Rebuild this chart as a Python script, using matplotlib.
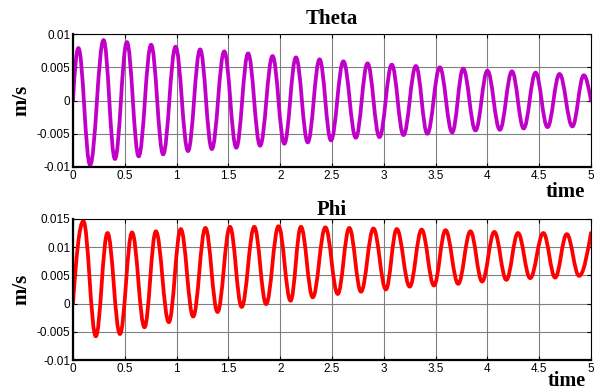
import matplotlib
matplotlib.use("Agg")
import matplotlib.pyplot as plt
from matplotlib.path import Path
from matplotlib.patches import PathPatch

# Theta: start, alternating peaks/troughs, end
theta_t = [0.0, 0.052, 0.165, 0.295, 0.405, 0.52, 0.634, 0.754, 0.87, 0.99, 1.11,
           1.227, 1.34, 1.46, 1.576, 1.69, 1.806, 1.926, 2.04, 2.152, 2.266, 2.38,
           2.49, 2.61, 2.73, 2.843, 2.958, 3.077, 3.19, 3.31, 3.42, 3.54, 3.66,
           3.766, 3.885, 4.0, 4.12, 4.237, 4.35, 4.465, 4.58, 4.696, 4.82, 4.93, 5.0]
theta_v = [0.0, 0.0079, -0.0097, 0.0091, -0.0088, 0.0088, -0.0084, 0.0084, -0.0081,
           0.0081, -0.0076, 0.0077, -0.0073, 0.0074, -0.0071, 0.0071, -0.0068, 0.0067,
           -0.0065, 0.0065, -0.0063, 0.0062, -0.0060, 0.0059, -0.0056, 0.0056, -0.0055,
           0.0054, -0.0052, 0.0052, -0.0050, 0.0050, -0.0048, 0.0048, -0.0045, 0.0045,
           -0.0044, 0.0044, -0.0042, 0.0042, -0.0040, 0.0040, -0.0039, 0.0038, 0.0]

# Phi
phi_t = [0.0, 0.10, 0.22, 0.333, 0.453, 0.57, 0.69, 0.80, 0.925, 1.04, 1.16, 1.278,
         1.395, 1.515, 1.628, 1.75, 1.864, 1.984, 2.10, 2.20, 2.314, 2.436, 2.555,
         2.667, 2.78, 2.90, 3.02, 3.125, 3.25, 3.365, 3.484, 3.596, 3.718, 3.836,
         3.949, 4.067, 4.183, 4.295, 4.413, 4.54, 4.654, 4.766, 4.885, 5.0]
phi_v = [0.0, 0.0146, -0.0058, 0.0125, -0.0054, 0.0126, -0.0042, 0.0128, -0.0033,
         0.0132, -0.0023, 0.0134, -0.0015, 0.0136, -0.0006, 0.0136, -0.0001, 0.0137,
         0.0005, 0.0136, 0.0011, 0.0135, 0.0017, 0.0134, 0.0021, 0.0133, 0.0025,
         0.0132, 0.0030, 0.0131, 0.0032, 0.0130, 0.0035, 0.0128, 0.0039, 0.0127,
         0.0042, 0.0125, 0.0045, 0.0125, 0.0046, 0.0123, 0.0049, 0.0125]

xticks = [0, 0.5, 1, 1.5, 2, 2.5, 3, 3.5, 4, 4.5, 5]
xticklabels = ["0", "0.5", "1", "1.5", "2", "2.5", "3", "3.5", "4", "4.5", "5"]
theta_yticks = [-0.01, -0.005, 0, 0.005, 0.01]
theta_ylabels = ["-0.01", "-0.005", "0", "0.005", "0.01"]
phi_yticks = [-0.01, -0.005, 0, 0.005, 0.01, 0.015]
phi_ylabels = ["-0.01", "-0.005", "0", "0.005", "0.01", "0.015"]

SERIF = "Liberation Serif"
SANS = "Liberation Sans"


def smooth_path(ts, vs):
    # cubic bezier through extrema, flat tangent at each interior point
    verts = [(ts[0], vs[0])]
    codes = [Path.MOVETO]
    n = len(ts)
    for i in range(n - 1):
        t0, y0, t1, y1 = ts[i], vs[i], ts[i + 1], vs[i + 1]
        dt = t1 - t0
        if i == 0:
            c1 = (t0 + dt * 0.3, y0 + (y1 - y0) * 0.55)
        else:
            c1 = (t0 + dt * 0.38, y0)
        if i == n - 2:
            c2 = (t1 - dt * 0.3, y1 - (y1 - y0) * 0.45)
        else:
            c2 = (t1 - dt * 0.38, y1)
        verts += [c1, c2, (t1, y1)]
        codes += [Path.CURVE4] * 3
    return Path(verts, codes)


def style(ax, yticks, ylabels, ylim):
    ax.set_xlim(0, 5)
    ax.set_ylim(*ylim)
    ax.set_xticks(xticks)
    ax.set_xticklabels(xticklabels, fontfamily=SANS, fontsize=8.5)
    ax.set_yticks(yticks)
    ax.set_yticklabels(ylabels, fontfamily=SANS, fontsize=8.5)
    ax.tick_params(direction="in", top=True, right=True, length=3, width=0.8, pad=2)
    ax.grid(True, color="#808080", linewidth=0.8)
    ax.set_axisbelow(True)
    for s in ["left", "bottom"]:
        ax.spines[s].set_linewidth(1.6)
    for s in ["top", "right"]:
        ax.spines[s].set_linewidth(0.8)
    ax.set_ylabel("m/s", fontfamily=SERIF, fontweight="bold", fontsize=15, labelpad=4)


def time_label(ax, dy, size):
    ax.annotate("time", xy=(1, 0), xycoords="axes fraction", xytext=(-4, dy),
                textcoords="offset points", ha="right", va="center",
                fontfamily=SERIF, fontweight="bold", fontsize=size)


fig = plt.figure(figsize=(5.95, 3.92), dpi=100)
ax1 = fig.add_axes([0.1227, 0.574, 0.8706, 0.339])
ax2 = fig.add_axes([0.1227, 0.0816, 0.8706, 0.36])

style(ax1, theta_yticks, theta_ylabels, (-0.01, 0.01))
ax1.add_patch(PathPatch(smooth_path(theta_t, theta_v), fill=False,
                        edgecolor="#C000C8", linewidth=2.7, capstyle="round", joinstyle="round"))
ax1.set_title("Theta", fontfamily=SERIF, fontweight="bold", fontsize=15, pad=7)
time_label(ax1, -18, 15)

style(ax2, phi_yticks, phi_ylabels, (-0.01, 0.015))
ax2.add_patch(PathPatch(smooth_path(phi_t, phi_v), fill=False,
                        edgecolor="#FF0000", linewidth=2.7, capstyle="round", joinstyle="round"))
ax2.set_title("Phi", fontfamily=SERIF, fontweight="bold", fontsize=15, pad=3)
time_label(ax2, -15, 14.5)

fig.savefig("out.png", dpi=100, facecolor="white")
